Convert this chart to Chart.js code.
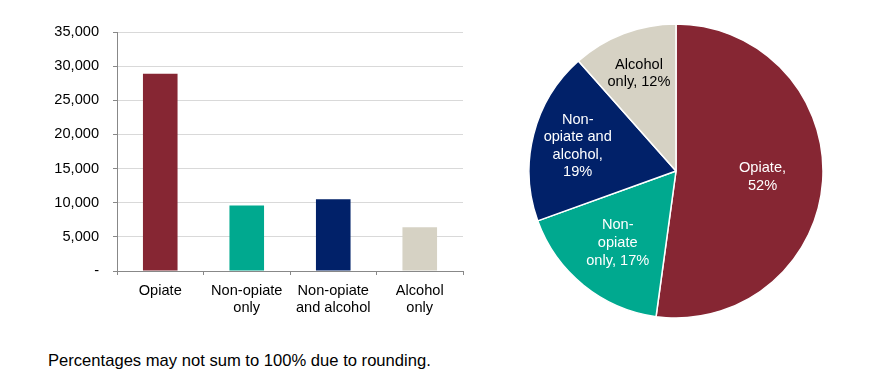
<!DOCTYPE html>
<html>
<head>
<meta charset="utf-8">
<script src="https://cdn.jsdelivr.net/npm/chart.js@4"></script>
<style>
  body { margin: 0; background: #fff; width: 888px; height: 384px; overflow: hidden; position: relative; font-family: "Liberation Sans", Arial, sans-serif; }
  #barBox { position: absolute; left: 0; top: 0; width: 480px; height: 330px; }
  #pieBox { position: absolute; left: 526px; top: 21px; width: 300px; height: 300px; }
  #note { position: absolute; left: 48px; top: 351px; font-size: 16.6px; line-height: 20px; color: #000; }
</style>
</head>
<body>
<div id="barBox"><canvas id="barChart"></canvas></div>
<div id="pieBox"><canvas id="pieChart"></canvas></div>
<div id="note">Percentages may not sum to 100% due to rounding.</div>
<script>
// Data
const categories = [['Opiate'], ['Non-opiate', 'only'], ['Non-opiate', 'and alcohol'], ['Alcohol', 'only']];
const clients = [28900, 9600, 10500, 6400];
const colours = ['#862633', '#00A98F', '#012169', '#D6D2C4'];
const yTicks = [0, 5000, 10000, 15000, 20000, 25000, 30000, 35000];
// pie labels, '%' gets replaced by the share
const pieLabels = [['Opiate,', '%'], ['Non-', 'opiate', 'only, %'], ['Non-', 'opiate and', 'alcohol,', '%'], ['Alcohol', 'only, %']];
const pieTextColours = ['#fff', '#fff', '#fff', '#000'];

const fontFamily = '"Liberation Sans", Arial, sans-serif';
Chart.defaults.font.family = fontFamily;
Chart.defaults.font.size = 14.6;
Chart.defaults.color = '#000';
Chart.defaults.animation = false;

new Chart(document.getElementById('barChart'), {
    type: 'bar',
    data: {
        labels: categories,
        datasets: [{
            data: clients,
            backgroundColor: colours,
            borderWidth: 0,
            barPercentage: 0.4,
            categoryPercentage: 1
        }]
    },
    options: {
        responsive: true,
        maintainAspectRatio: false,
        layout: { padding: { top: 32, right: 17, bottom: 0, left: 0 } },
        plugins: { legend: { display: false }, tooltip: { enabled: false } },
        scales: {
            x: {
                grid: { display: true, drawOnChartArea: false, drawTicks: true, tickLength: 4, color: '#888', offset: true },
                border: { color: '#888' },
                ticks: { padding: 8, font: { lineHeight: 1.16 }, maxRotation: 0 },
                afterFit: function(scale) { scale.height = 59; }
            },
            y: {
                min: 0,
                max: 35000,
                afterBuildTicks: function(scale) { scale.ticks = yTicks.map(v => ({ value: v })); },
                grid: { color: '#d9d9d9', tickColor: '#888', tickLength: 4 },
                border: { color: '#888' },
                ticks: {
                    padding: 14,
                    callback: function(v) { return v === 0 ? '-' : v.toLocaleString('en-US'); }
                },
                afterFit: function(scale) { scale.width = 117; }
            }
        }
    }
});

// draw text labels inside the pie slices
const sliceLabels = {
    id: 'sliceLabels',
    afterDatasetsDraw(chart, args, opts) {
        const ctx = chart.ctx;
        const arcs = chart.getDatasetMeta(0).data;
        const values = chart.data.datasets[0].data;
        const total = values.reduce((a, b) => a + b, 0);
        ctx.save();
        ctx.font = '14.6px ' + fontFamily;
        ctx.textAlign = 'center';
        ctx.textBaseline = 'middle';
        arcs.forEach((arc, i) => {
            const mid = (arc.startAngle + arc.endAngle) / 2;
            const r = arc.outerRadius * opts.radial[i];
            const x = arc.x + Math.cos(mid) * r;
            const y = arc.y + Math.sin(mid) * r;
            const pct = Math.round(values[i] / total * 100) + '%';
            const lines = pieLabels[i].map(s => s.replace('%', pct));
            const lh = 17.6;
            const y0 = y - (lines.length - 1) * lh / 2;
            ctx.fillStyle = pieTextColours[i];
            lines.forEach((t, j) => ctx.fillText(t, x, y0 + j * lh));
        });
        ctx.restore();
    }
};

new Chart(document.getElementById('pieChart'), {
    type: 'pie',
    data: {
        labels: categories.map(c => c.join(' ')),
        datasets: [{
            data: clients,
            backgroundColor: colours,
            borderColor: '#fff',
            borderWidth: 1.5,
            hoverOffset: 0
        }]
    },
    options: {
        responsive: true,
        maintainAspectRatio: false,
        radius: 147,
        plugins: {
            legend: { display: false },
            tooltip: { enabled: false },
            sliceLabels: { radial: [0.59, 0.63, 0.69, 0.71] }
        }
    },
    plugins: [sliceLabels]
});
</script>
</body>
</html>
